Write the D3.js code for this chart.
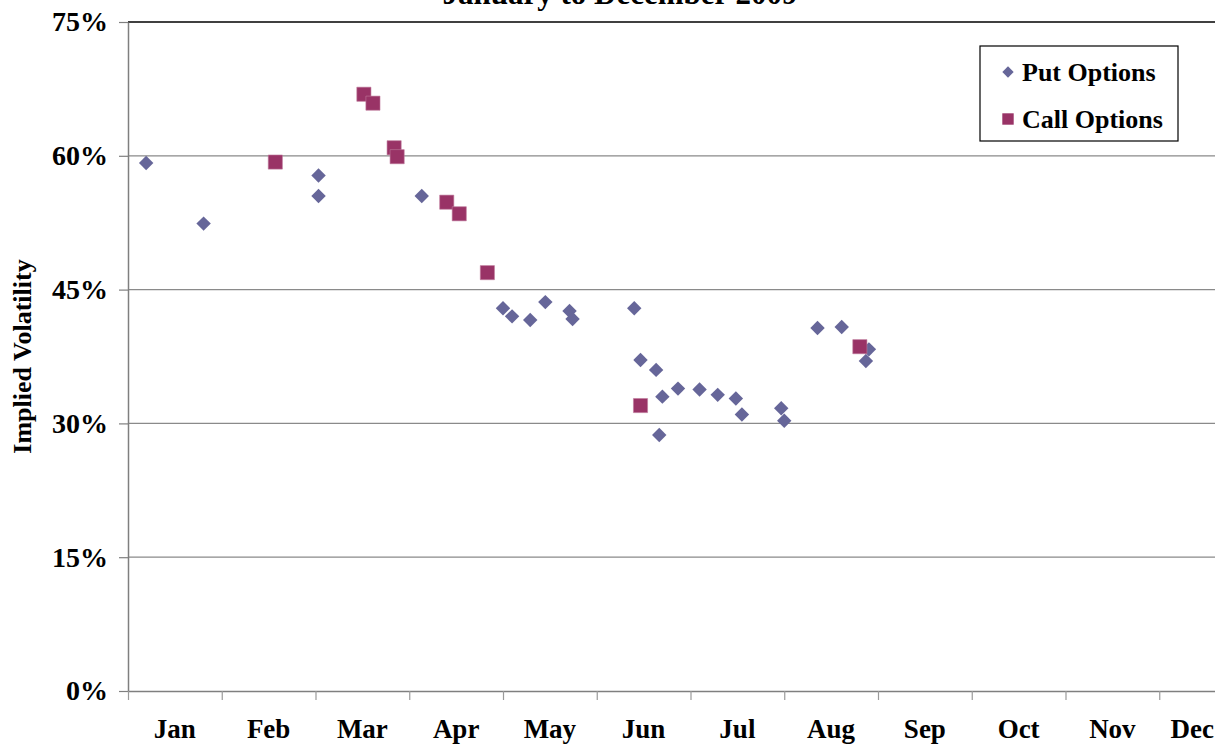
<!DOCTYPE html>
<html>
<head>
<meta charset="utf-8">
<script src="https://cdn.jsdelivr.net/npm/d3@7/dist/d3.min.js"></script>
<style>
  html, body { margin: 0; padding: 0; background: #fff; }
  svg { display: block; }
  text { font-family: "Liberation Serif", "Times New Roman", serif; font-weight: bold; fill: #000; }
</style>
</head>
<body>
<svg id="chart" width="1215" height="745"></svg>
<script>
// Month labels along the horizontal axis
const months = ["Jan", "Feb", "Mar", "Apr", "May", "Jun", "Jul", "Aug", "Sep", "Oct", "Nov", "Dec"];

// Implied volatility (%) of put options, by observation date
const putDates = ["2009-01-07", "2009-01-26", "2009-03-02", "2009-03-02", "2009-04-05",
  "2009-05-01", "2009-05-04", "2009-05-10", "2009-05-15", "2009-05-23", "2009-05-24",
  "2009-06-13", "2009-06-15", "2009-06-20", "2009-06-21", "2009-06-22", "2009-06-27",
  "2009-07-04", "2009-07-10", "2009-07-16", "2009-07-18", "2009-07-31",
  "2009-08-01", "2009-08-12", "2009-08-20", "2009-08-28", "2009-08-29"];
const putVol = [59.2, 52.4, 57.8, 55.5, 55.5,
  42.9, 42.0, 41.6, 43.6, 42.6, 41.7,
  42.9, 37.1, 36.0, 28.7, 33.0, 33.9,
  33.8, 33.2, 32.8, 31.0, 31.7,
  30.3, 40.7, 40.8, 37.0, 38.3];

// Implied volatility (%) of call options, by observation date
const callDates = ["2009-02-17", "2009-03-17", "2009-03-20", "2009-03-27", "2009-03-28",
  "2009-04-13", "2009-04-17", "2009-04-26", "2009-06-15", "2009-08-26"];
const callVol = [59.3, 66.9, 65.9, 60.9, 59.9, 54.8, 53.5, 46.9, 32.0, 38.6];

// Value axis ticks (%)
const yTicks = [0, 15, 30, 45, 60, 75];

const seriesNames = ["Put Options", "Call Options"];
const colors = { put: "#666699", call: "#993366" };

const W = 1215, H = 745;
const margin = { left: 128, top: 22 };
const plotW = 1125, plotH = 669;

const svg = d3.select("#chart");
const parse = d3.timeParse("%Y-%m-%d");

// Position of a date measured in months from the start of the year
function monthPos(s) {
  const d = parse(s);
  const m0 = d3.timeMonth.floor(d), m1 = d3.timeMonth.offset(m0, 1);
  return d.getMonth() + (d - m0) / (m1 - m0);
}

const x = d3.scaleLinear().domain([0, 12]).range([margin.left, margin.left + plotW]);
const y = d3.scaleLinear().domain([0, 75]).range([margin.top + plotH, margin.top]);

const putData = putDates.map((d, i) => ({ m: monthPos(d), v: putVol[i] }));
const callData = callDates.map((d, i) => ({ m: monthPos(d), v: callVol[i] }));

// Horizontal gridlines
svg.append("g")
  .selectAll("line")
  .data(yTicks.filter(t => t > 0 && t < 75))
  .join("line")
  .attr("x1", x(0)).attr("x2", x(12))
  .attr("y1", d => y(d)).attr("y2", d => y(d))
  .attr("stroke", "#8a8a8a").attr("stroke-width", 1.2);

// Plot-area top border
svg.append("line")
  .attr("x1", x(0)).attr("x2", x(12))
  .attr("y1", y(75)).attr("y2", y(75))
  .attr("stroke", "#000").attr("stroke-width", 1.5);

// Value axis
const yAxis = svg.append("g")
  .attr("transform", `translate(${x(0)},0)`)
  .call(d3.axisLeft(y).tickValues(yTicks).tickSize(9).tickSizeOuter(0).tickPadding(11)
    .tickFormat(d => d + "%"));
yAxis.select(".domain").attr("stroke", "#7f7f7f").attr("stroke-width", 1.5);
yAxis.selectAll(".tick line").attr("stroke", "#7f7f7f").attr("stroke-width", 1.2);
yAxis.selectAll(".tick text")
  .style("font-size", "28px").style("font-family", "Liberation Serif").style("font-weight", "bold")
  .attr("fill", "#000");

// Category axis with a tick at every month boundary
const xAxis = svg.append("g")
  .attr("transform", `translate(0,${y(0)})`)
  .call(d3.axisBottom(x).tickValues(d3.range(0, 13)).tickSize(9).tickSizeOuter(0).tickFormat(""));
xAxis.select(".domain").attr("stroke", "#7f7f7f").attr("stroke-width", 1.5);
xAxis.selectAll(".tick line").attr("stroke", "#9a9a9a").attr("stroke-width", 1.2);

// Month names centred in each month, kept inside the right edge
const monthLabels = svg.append("g")
  .selectAll("text")
  .data(months)
  .join("text")
  .attr("x", (d, i) => x(i + 0.5))
  .attr("y", 738)
  .attr("text-anchor", "middle")
  .style("font-size", "27px")
  .text(d => d);
monthLabels.each(function () {
  const b = this.getBBox();
  if (b.x + b.width > W - 1) {
    d3.select(this).attr("text-anchor", "end").attr("x", W - 1);
  }
});

// Axis title
svg.append("text")
  .attr("transform", `translate(31,${(y(0) + y(75)) / 2}) rotate(-90)`)
  .attr("text-anchor", "middle")
  .style("font-size", "26px")
  .text("Implied Volatility");

// Chart title
svg.append("text")
  .attr("x", 620).attr("y", 4)
  .attr("text-anchor", "middle")
  .style("font-size", "31px")
  .text("January to December 2009");

// Markers
const diamond = d3.symbol().type(d3.symbolSquare).size(104);
const square = d3.symbol().type(d3.symbolSquare).size(200);

svg.append("g")
  .selectAll("path")
  .data(putData)
  .join("path")
  .attr("d", diamond)
  .attr("transform", d => `translate(${x(d.m)},${y(d.v)}) rotate(45)`)
  .attr("fill", colors.put);

svg.append("g")
  .selectAll("path")
  .data(callData)
  .join("path")
  .attr("d", square)
  .attr("transform", d => `translate(${x(d.m)},${y(d.v)})`)
  .attr("fill", colors.call)
  .attr("stroke", "#c07a9c").attr("stroke-width", 0.6);

// Legend
const lg = svg.append("g").attr("transform", "translate(980,46)");
lg.append("rect")
  .attr("width", 198).attr("height", 95)
  .attr("fill", "#fff").attr("stroke", "#000").attr("stroke-width", 1.2);
const items = lg.selectAll("g.item")
  .data(seriesNames)
  .join("g")
  .attr("class", "item")
  .attr("transform", (d, i) => `translate(28,${26 + i * 47})`);
items.append("path")
  .attr("d", (d, i) => i === 0 ? d3.symbol().type(d3.symbolSquare).size(64)() : d3.symbol().type(d3.symbolSquare).size(130)())
  .attr("transform", (d, i) => i === 0 ? "rotate(45)" : null)
  .attr("fill", (d, i) => i === 0 ? colors.put : colors.call);
items.append("text")
  .attr("x", 14).attr("y", 9)
  .style("font-size", "26px")
  .text(d => d);
</script>
</body>
</html>
